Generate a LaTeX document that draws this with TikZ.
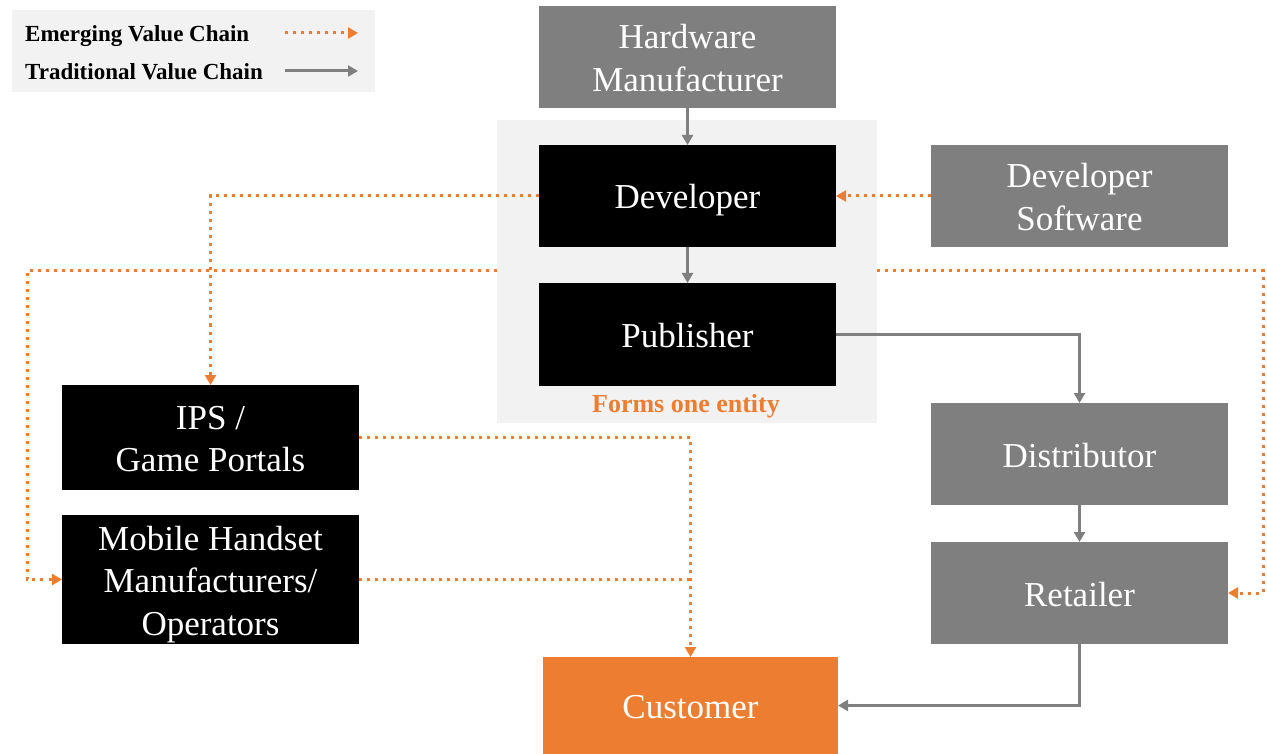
\documentclass[tikz,border=0pt]{standalone}
\usepackage{fontspec}
\setmainfont{Liberation Serif}
\usetikzlibrary{arrows.meta}
\definecolor{boxgray}{HTML}{7F7F7F}
\definecolor{lnorange}{HTML}{ED7D31}
\definecolor{bglight}{HTML}{F2F2F2}
\newcommand{\boxtext}[1]{\raisebox{-4.5pt}[\height][\depth]{\begin{tabular}{@{}c@{}}#1\end{tabular}}}
\tikzset{
  x=1pt, y=-1pt,
  box/.style={minimum width=297pt, minimum height=102pt, inner sep=0pt, outer sep=0pt,
    text=white, font=\fontsize{35}{42.5}\selectfont},
  graybox/.style={box, fill=boxgray},
  blackbox/.style={box, fill=black},
  orangebox/.style={box, fill=lnorange},
  trad/.style={draw=boxgray, line width=3pt, -{Triangle[length=10pt,width=11pt]}},
  emerg/.style={draw=lnorange, line width=3pt, dash pattern=on 3pt off 5pt, -{Triangle[length=10pt,width=11pt]}},
  emerg line/.style={draw=lnorange, line width=3pt, dash pattern=on 3pt off 5pt},
  legendtext/.style={anchor=base west, inner sep=0pt, font=\bfseries\fontsize{23}{26}\selectfont},
}
\begin{document}
\begin{tikzpicture}
\useasboundingbox (0,0) rectangle (1267,754);
% legend
\fill[bglight] (12,10) rectangle (375,92);
\node[legendtext] (lg1) at (25,41.5) {Emerging Value Chain};
\node[legendtext] (lg2) at (25,79.5) {Traditional Value Chain};
\coordinate (la1) at (285,33); \coordinate (lb1) at (358,33);
\coordinate (la2) at (285,71); \coordinate (lb2) at (358,71);
\draw[emerg] (la1) -- (lb1);
\draw[trad] (la2) -- (lb2);
% entity background
\node[fill=bglight, minimum width=380pt, minimum height=303pt, inner sep=0pt, outer sep=0pt] (ent) at (687,271.5) {};
\node[text=lnorange, anchor=base, font=\bfseries\fontsize{26}{30}\selectfont, inner sep=0pt] (forms) at (686,412) {Forms one entity};
% boxes
\node[graybox] (hw) at (687.5,57) {\boxtext{Hardware\\Manufacturer}};
\node[blackbox] (dev) at (687.5,196) {\boxtext{Developer}};
\node[blackbox, minimum height=103pt] (pub) at (687.5,334.5) {\boxtext{Publisher}};
\node[graybox] (dsw) at (1079.5,196) {\boxtext{Developer\\Software}};
\node[blackbox, minimum height=105pt] (ips) at (210.5,437.5) {\boxtext{IPS /\\Game Portals}};
\node[blackbox, minimum height=129pt] (mh) at (210.5,579.5) {\boxtext{Mobile Handset\\Manufacturers/\\Operators}};
\node[graybox] (dist) at (1079.5,454) {\boxtext{Distributor}};
\node[graybox] (ret) at (1079.5,593) {\boxtext{Retailer}};
\node[orangebox, minimum width=295pt, minimum height=97pt] (cust) at (690.5,705.5) {\boxtext{Customer}};
% coordinates
\coordinate (eL) at (497,271);
\coordinate (eR) at (877,271);
\coordinate (lc) at (27,271);
\coordinate (rc) at (1263,271);
\coordinate (mj) at (cust.north |- mh.east);
% traditional
\draw[trad] (hw) -- (dev);
\draw[trad] (dev) -- (pub);
\draw[trad] (pub.east) -| (dist.north);
\draw[trad] (dist) -- (ret);
\draw[trad] (ret.south) |- (cust.east);
% emerging
\draw[emerg] (dsw.west) -- (dev.east);
\draw[emerg] (dev.west) -| (ips.north);
\draw[emerg] (eL) -- (lc) |- (mh.west);
\draw[emerg] (eR) -- (rc) |- (ret.east);
\draw[emerg] (ips.east) -| (cust.north);
\draw[emerg line] (mh.east) -- (mj);
\end{tikzpicture}
\end{document}
